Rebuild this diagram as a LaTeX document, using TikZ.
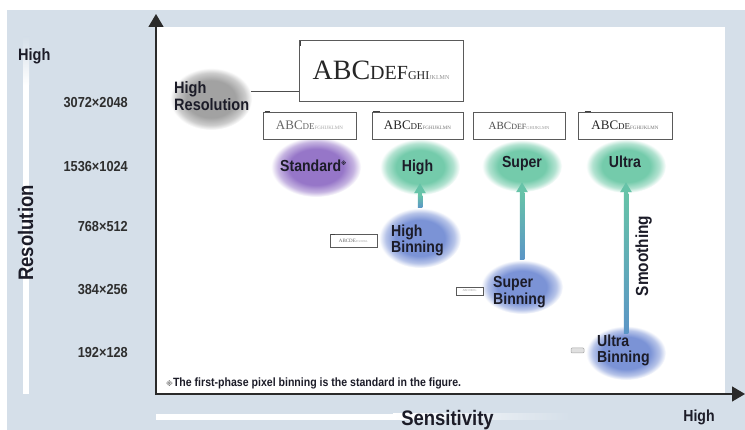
\documentclass[tikz,border=0pt]{standalone}
\usepackage{fontspec}
\setmainfont{Liberation Sans}
\newfontfamily\condf[FakeStretch=0.88]{Liberation Sans}
\newfontfamily\serifabc{Liberation Serif}
\newfontfamily\symf{DejaVu Sans}
\usetikzlibrary{arrows.meta,shapes.geometric,calc}
\newcommand\fsz[1]{\fontsize{#1}{#1}\selectfont}

\definecolor{bgc}{HTML}{D5DFE9}
\definecolor{axc}{HTML}{2A2A2A}
\definecolor{labc}{HTML}{1C1C28}
\definecolor{numc}{HTML}{2E2E2E}
\definecolor{greyb}{HTML}{A2A2A2}
\definecolor{purpb}{HTML}{9676C8}
\definecolor{greenb}{HTML}{74CBAB}
\definecolor{blueb}{HTML}{7B93D6}
\definecolor{arrg}{HTML}{66C3A8}
\definecolor{arrb}{HTML}{5B95C6}
\definecolor{boxc}{HTML}{5A5A5A}

\pgfdeclareradialshading{blobgrey}{\pgfpoint{0bp}{0bp}}{color(0bp)=(greyb); color(15bp)=(greyb); color(21bp)=(greyb!55!white); color(25bp)=(white); color(50bp)=(white)}
\pgfdeclareradialshading{blobpurp}{\pgfpoint{0bp}{0bp}}{color(0bp)=(purpb); color(15bp)=(purpb); color(21bp)=(purpb!55!white); color(25bp)=(white); color(50bp)=(white)}
\pgfdeclareradialshading{blobgreen}{\pgfpoint{0bp}{0bp}}{color(0bp)=(greenb); color(15bp)=(greenb); color(21bp)=(greenb!55!white); color(25bp)=(white); color(50bp)=(white)}
\pgfdeclareradialshading{blobblue}{\pgfpoint{0bp}{0bp}}{color(0bp)=(blueb); color(15bp)=(blueb); color(21bp)=(blueb!55!white); color(25bp)=(white); color(50bp)=(white)}

\begin{document}
\begin{tikzpicture}[x=1pt,y=-1pt,
  blob/.style={ellipse, shade, draw=none, inner sep=0pt},
  lab/.style={inner sep=0pt, text=labc, font=\condf\bfseries\fsz{16}},
  num/.style={inner sep=0pt, anchor=base east, text=numc, font=\condf\bfseries\fsz{14.5}},
  abox/.style={draw=boxc, line width=0.8pt, fill=white, inner sep=0pt},
  upar/.style={draw=arrg, line width=4.5pt, -{Triangle[length=10pt,width=11pt]}},
  cornermark/.style={line width=1.6pt, draw=black!75},
  axisline/.style={draw=axc, line width=1.4pt, -{Triangle[length=13pt,width=15pt]}}
]
\useasboundingbox (0,0) rectangle (745,430);
% background
\fill[white] (0,0) rectangle (745,430);
\fill[bgc] (7,10) rectangle (745,430);
\fill[white] (156,27) rectangle (725,394);
% left and bottom strips
\shade[top color=bgc, bottom color=white] (23,37) rectangle (29,85);
\fill[white] (23,85) rectangle (29,394);
\fill[white] (156,414) rectangle (393,420);
\shade[left color=white, right color=bgc] (393,414) rectangle (570,420);

% axes
\coordinate (orig) at (156,394);
\coordinate (ytip) at (156,14);
\coordinate (xtip) at (745,394);
\draw[axisline] (orig) -- (ytip);
\draw[axisline] ([xshift=-0.7pt]orig) -- (xtip);

% blobs
\node[blob, shading=blobgrey, minimum width=82, minimum height=62] (hr) at (211,99) {};
\node[blob, shading=blobpurp, minimum width=90, minimum height=60] (std) at (316,167) {};
\node[blob, shading=blobgreen, minimum width=80, minimum height=56] (hi) at (420,167) {};
\node[blob, shading=blobgreen, minimum width=80, minimum height=52] (su) at (522,166) {};
\node[blob, shading=blobgreen, minimum width=80, minimum height=54] (ul) at (626,166) {};
\node[blob, shading=blobblue, minimum width=82, minimum height=60] (hb) at (420,238) {};
\node[blob, shading=blobblue, minimum width=82, minimum height=54] (sb) at (522,287) {};
\node[blob, shading=blobblue, minimum width=80, minimum height=54] (ub) at (626,353) {};

% sample boxes
\node[abox, minimum width=164, minimum height=61, text=black!85] (bigbox) at (381,70.5)
  {\serifabc\fsz{28}ABC\fsz{20}DEF\fsz{12}GHI{\color{black!45}\fsz{6}JKLMN}};
\node[abox, minimum width=93, minimum height=27, text=black!60] (b1) at (309.5,125.5)
  {\serifabc\fsz{13}ABC\fsz{9}DE{\color{black!35}\fsz{5}FGHIJKLMN}};
\node[abox, minimum width=91, minimum height=27, text=black!85] (b2) at (417.5,125.5)
  {\serifabc\fsz{13}ABC\fsz{9}DE{\color{black!55}\fsz{5}FGHIJKLMN}};
\node[abox, minimum width=92, minimum height=27, text=black!70] (b3) at (519,125.5)
  {\serifabc\fsz{11}ABC\fsz{8}DEF{\color{black!40}\fsz{4.5}GHIJKLMN}};
\node[abox, minimum width=94, minimum height=27, text=black!85] (b4) at (625,125.5)
  {\serifabc\fsz{13}ABC\fsz{9}DE{\color{black!55}\fsz{5}FGHIJKLMN}};
\draw[cornermark] ([xshift=2pt,yshift=-1pt]bigbox.north west) -- ++(0,5);
\draw[cornermark] ([xshift=2pt]b1.north west) -- ++(5,0);
\draw[cornermark] ([xshift=1pt]b2.north west) -- ++(7,0);
\draw[cornermark] ([xshift=7pt]b4.north west) -- ++(6,0);

\node[abox, line width=0.6pt, minimum width=47, minimum height=13, text=black!60] (s1) at (353.5,241)
  {\serifabc\fsz{5}ABCDE{\color{black!35}\fsz{3}FGHIJKL}};
\draw[cornermark, line width=1pt] ([xshift=1pt]s1.north west) -- ++(4,0);
\node[abox, line width=0.5pt, minimum width=27, minimum height=8, text=black!40] (s2) at (469.5,291)
  {\serifabc\fsz{3}ABCDEFG};
\node[abox, draw=black!35, fill=black!12, rounded corners=1pt, line width=0.5pt, minimum width=13, minimum height=5] (s3) at (577.5,350.5) {};

% connector from High Resolution to big sample
\draw[draw=black!70, line width=0.9pt] (hr.11) -- (hr.11 -| bigbox.west);

% smoothing arrows
\draw[upar, shorten >=-12pt] (hb.north) -- (hi.south);
\shade[top color=arrg, bottom color=arrb] ($(hb.north)+(-2.25,0)$) rectangle ($(hi.south)+(2.25,0)$);
\draw[upar, shorten >=-10pt] (sb.north) -- (su.south);
\shade[top color=arrg, bottom color=arrb] ($(sb.north)+(-2.25,0)$) rectangle ($(su.south)+(2.25,0)$);
\draw[upar, shorten >=-11pt, shorten <=-8pt] (ub.north) -- (ul.south);
\shade[top color=arrg, bottom color=arrb] ($(ub.north)+(-2.25,8)$) rectangle ($(ul.south)+(2.25,0)$);

% blob labels
\node[lab, anchor=base west, font=\condf\bfseries\fsz{16.5}] (hrl1) at (174,94) {High};
\node[lab, anchor=base west, font=\condf\bfseries\fsz{16.5}] (hrl2) at (174,111) {Resolution};
\node[lab, anchor=base west] (stdl) at (280,172) {Standard\raisebox{6pt}{\symf\fsz{5.5}※}};
\node[lab, anchor=base] (hil) at (417.5,172) {High};
\node[lab, anchor=base] (sul) at (522,168) {Super};
\node[lab, anchor=base] (ull) at (625,168) {Ultra};
\node[lab, anchor=base west] (hbl1) at (391,237) {High};
\node[lab, anchor=base west] (hbl2) at (391,253) {Binning};
\node[lab, anchor=base west] (sbl1) at (493,288) {Super};
\node[lab, anchor=base west] (sbl2) at (493,305) {Binning};
\node[lab, anchor=base west] (ubl1) at (597,347) {Ultra};
\node[lab, anchor=base west] (ubl2) at (597,363) {Binning};
\node[lab, rotate=90, anchor=base, font=\condf\bfseries\fsz{17.5}] (smooth) at (648,256) {Smoothing};

% axis labels
\node[lab, anchor=base west, font=\condf\bfseries\fsz{16.5}] (yhigh) at (18,61) {High};
\node[lab, rotate=90, anchor=base, font=\condf\bfseries\fsz{21}] (ylab) at (33,233) {Resolution};
\node[lab, anchor=base, font=\condf\bfseries\fsz{21}] (xlab) at (447.5,426) {Sensitivity};
\node[lab, anchor=base, font=\condf\bfseries\fsz{16}] (xhigh) at (699,422) {High};

% resolution values
\node[num] (r1) at (128,108) {3072×2048};
\node[num] (r2) at (128,172) {1536×1024};
\node[num] (r3) at (128,232) {768×512};
\node[num] (r4) at (128,295) {384×256};
\node[num] (r5) at (128,358) {192×128};

% footnote
\node[inner sep=0pt, anchor=base west, text=labc, font=\condf\bfseries\fsz{12}] (foot) at (166,387)
  {{\symf\fsz{7}\color{gray}※}The first-phase pixel binning is the standard in the figure.};
\end{tikzpicture}
\end{document}
